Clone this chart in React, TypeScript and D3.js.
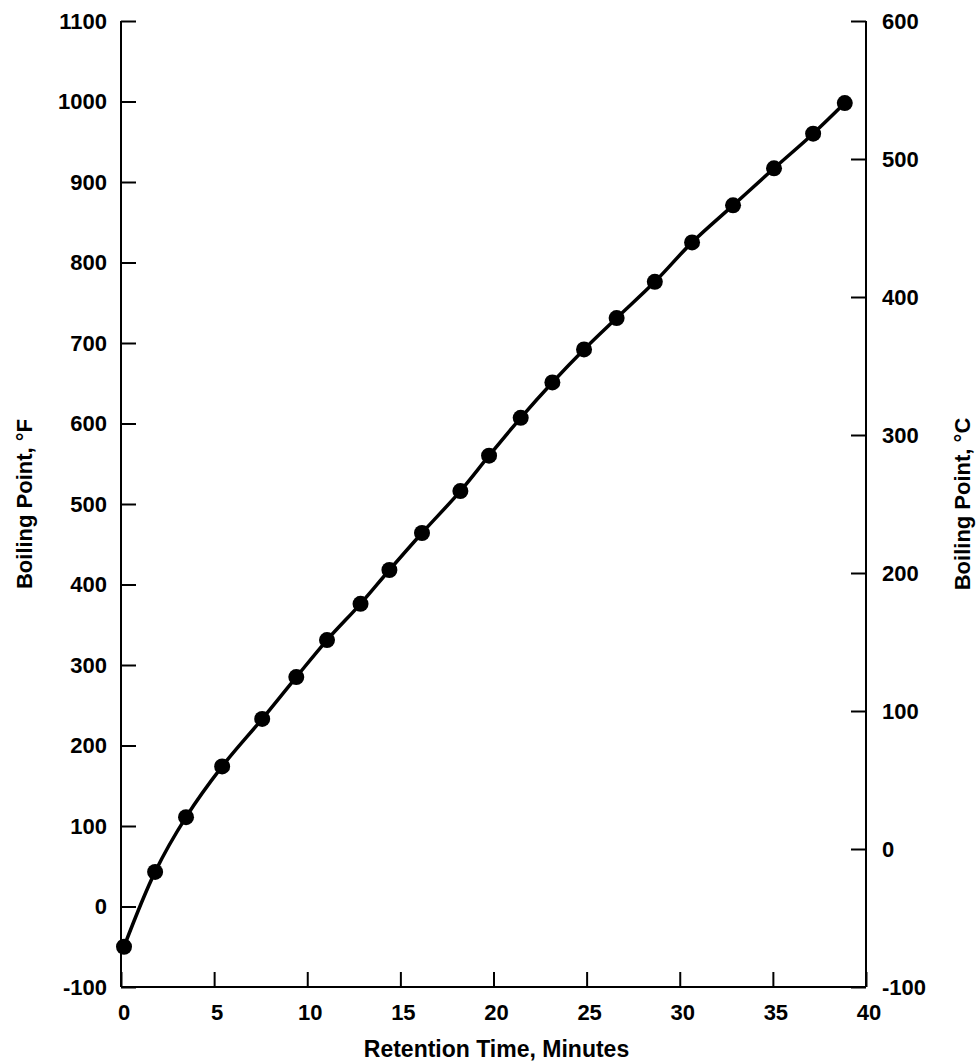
import React, { useEffect, useRef } from 'react';
import * as d3 from "d3";

// retention time (minutes) vs boiling point (°F)
const retentionTime = [0, 1.67, 3.33, 5.27, 7.42, 9.25, 10.9, 12.7, 14.25, 16.0, 18.06, 19.6, 21.3, 23.0, 24.7, 26.45, 28.5, 30.5, 32.7, 34.9, 37.0, 38.7];
const boilingF = [-50, 43, 111, 174, 233, 285, 331, 376, 418, 464, 516, 560, 607, 651, 692, 731, 776, 825, 871, 917, 960, 998];

const xTicks = [0, 5, 10, 15, 20, 25, 30, 35, 40];
const fTicks = [-100, 0, 100, 200, 300, 400, 500, 600, 700, 800, 900, 1000, 1100];
const cTicks = [-100, 0, 100, 200, 300, 400, 500, 600];

const xTitle = "Retention Time, Minutes";
const leftTitle = "Boiling Point, °F";
const rightTitle = "Boiling Point, °C";

const FONT = "'Liberation Sans', Arial, Helvetica, sans-serif";

function Chart() {
  const ref = useRef<SVGSVGElement | null>(null);

  useEffect(() => {
    if (ref.current == null) return;
    const width = 976, height = 1062;
    const left = 121, right = 866, top = 21, bottom = 987;

    const svg = d3.select(ref.current);
    svg.selectAll("*").remove();
    svg.attr("width", width).attr("height", height);

    const x = d3.scaleLinear().domain([0, 40]).range([left, right]);
    const yF = d3.scaleLinear().domain([-100, 1100]).range([bottom, top]);
    const yC = d3.scaleLinear().domain([-100, 600]).range([bottom, top]);

    const tickLen = 15;

    // left axis (°F), ticks point inward
    const gl = svg.append("g")
      .attr("transform", `translate(${left},0)`)
      .call(d3.axisRight(yF).tickValues(fTicks).tickSize(tickLen).tickFormat(() => ""));
    gl.select(".domain").remove();
    svg.append("line").attr("x1", left).attr("x2", left).attr("y1", top).attr("y2", bottom)
      .attr("stroke", "#000").attr("stroke-width", 2);
    svg.append("g").selectAll("text").data(fTicks).join("text")
      .attr("x", left - 14).attr("y", d => yF(d)).attr("dy", "0.36em")
      .attr("text-anchor", "end")
      .text(d => String(d));

    // right axis (°C)
    const gr = svg.append("g")
      .attr("transform", `translate(${right},0)`)
      .call(d3.axisLeft(yC).tickValues(cTicks).tickSize(tickLen).tickFormat(() => ""));
    gr.select(".domain").remove();
    svg.append("line").attr("x1", right).attr("x2", right).attr("y1", top).attr("y2", bottom)
      .attr("stroke", "#000").attr("stroke-width", 2);
    svg.append("g").selectAll("text").data(cTicks).join("text")
      .attr("x", right + 16).attr("y", d => yC(d)).attr("dy", "0.36em")
      .attr("text-anchor", "start")
      .text(d => String(d));

    // bottom axis
    const gb = svg.append("g")
      .attr("transform", `translate(0,${bottom})`)
      .call(d3.axisTop(x).tickValues(xTicks).tickSize(tickLen).tickFormat(() => ""));
    gb.select(".domain").remove();
    svg.append("line").attr("x1", left).attr("x2", right).attr("y1", bottom).attr("y2", bottom)
      .attr("stroke", "#000").attr("stroke-width", 2);
    svg.append("g").selectAll("text").data(xTicks).join("text")
      .attr("x", d => x(d) + 3).attr("y", bottom + 25).attr("dy", "0.36em")
      .attr("text-anchor", "middle")
      .text(d => String(d));

    svg.selectAll(".tick line").attr("stroke", "#000").attr("stroke-width", 2);
    svg.selectAll("text").attr("font-family", FONT).attr("font-weight", "bold")
      .attr("font-size", 22).attr("fill", "#000");

    // titles
    svg.append("text")
      .attr("x", (left + right) / 2 + 3).attr("y", 1057)
      .attr("text-anchor", "middle")
      .attr("font-family", FONT).attr("font-weight", "bold").attr("font-size", 23)
      .text(xTitle);
    svg.append("text")
      .attr("transform", `translate(32,${(top + bottom) / 2}) rotate(-90)`)
      .attr("text-anchor", "middle")
      .attr("font-family", FONT).attr("font-weight", "bold").attr("font-size", 22)
      .text(leftTitle);
    svg.append("text")
      .attr("transform", `translate(970,${(top + bottom) / 2}) rotate(-90)`)
      .attr("text-anchor", "middle")
      .attr("font-family", FONT).attr("font-weight", "bold").attr("font-size", 22)
      .text(rightTitle);

    // curve and points
    const pts: [number, number][] = retentionTime.map((t, i) => [t, boilingF[i]]);
    const line = d3.line<[number, number]>()
      .x(d => x(d[0]) + 3)
      .y(d => yF(d[1]))
      .curve(d3.curveCatmullRom.alpha(0.5));
    svg.append("path").datum(pts)
      .attr("d", line)
      .attr("fill", "none").attr("stroke", "#000").attr("stroke-width", 3.5);
    svg.append("g").selectAll("circle").data(pts).join("circle")
      .attr("cx", d => x(d[0]) + 3).attr("cy", d => yF(d[1]))
      .attr("r", 8).attr("fill", "#000");
  }, []);

  return <svg ref={ref} style={{ display: "block" }}></svg>;
}

export default function App() {
  return (
    <div style={{ position: "fixed", left: 0, top: 0, width: 976, height: 1062, overflow: "hidden", background: "#fff" }}>
      <Chart />
    </div>
  );
}
